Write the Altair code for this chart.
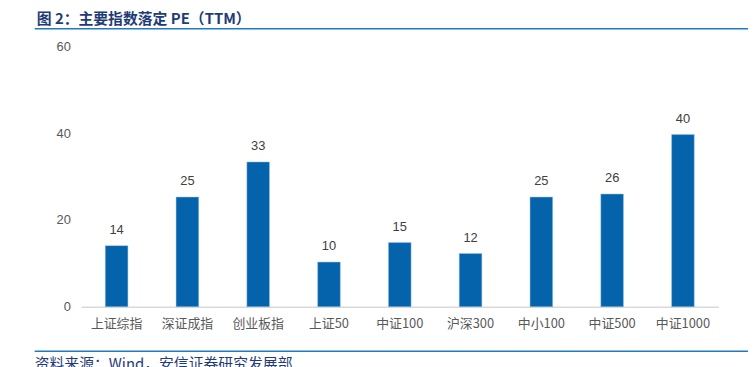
import altair as alt
import pandas as pd

categories = ["上证综指", "深证成指", "创业板指", "上证50", "中证100", "沪深300", "中小100", "中证500", "中证1000"]
pe_values = [14.1, 25.3, 33.4, 10.3, 14.8, 12.3, 25.3, 26.0, 39.7]
y_ticks = [0, 20, 40, 60]

title_text = "图 2：主要指数落定 PE（TTM）"
source_text = "资料来源：Wind，安信证券研究发展部"

df = pd.DataFrame({"cat": categories, "pe": pe_values})

FONT = "Noto Sans CJK SC"
W, H = 644, 263

x = alt.X("cat:N", sort=categories, title=None,
          scale=alt.Scale(paddingInner=0.68, paddingOuter=0.34),
          axis=alt.Axis(labelAngle=0, labelFont=FONT, labelFontSize=13, labelColor="#595959",
                        labelPadding=11, ticks=False, domainColor="#D9D9D9", domainWidth=1.5))
y = alt.Y("pe:Q", title=None,
          scale=alt.Scale(domain=[0, 60], nice=False),
          axis=alt.Axis(values=y_ticks, grid=False, domain=False, ticks=False,
                        labelFont="Liberation Sans", labelFontSize=13, labelColor="#595959",
                        labelPadding=11))

bars = alt.Chart(df).mark_bar(color="#0563AC", stroke="#9DC3E6", strokeWidth=0.5).encode(x=x, y=y)
labels = alt.Chart(df).mark_text(dy=-9, baseline="bottom", font="Liberation Sans",
                                 fontSize=13, color="#404040").encode(
    x=alt.X("cat:N", sort=categories), y="pe:Q", text=alt.Text("pe:Q", format=".0f"))

deco_df = pd.DataFrame({"t": [title_text]})
title = alt.Chart(deco_df).mark_text(align="left", baseline="middle", font=FONT, fontSize=15,
                                     fontWeight="bold", color="#1F3C78").encode(
    x=alt.value(-45), y=alt.value(-27.5), text="t:N")
src_df = pd.DataFrame({"t": [source_text]})
source = alt.Chart(src_df).mark_text(align="left", baseline="middle", font=FONT, fontSize=15,
                                     color="#1F3C78").encode(
    x=alt.value(-47), y=alt.value(321), text="t:N")
top_line = alt.Chart(deco_df).mark_rule(color="#1F7BC1", strokeWidth=1.5).encode(
    x=alt.value(-47), x2=alt.value(680), y=alt.value(-18))
bottom_line = alt.Chart(deco_df).mark_rule(color="#1F7BC1", strokeWidth=1.5).encode(
    x=alt.value(-47), x2=alt.value(680), y=alt.value(308))

chart = alt.layer(bars, labels, title, top_line, bottom_line, source).properties(
    width=W, height=H,
    background="white",
    autosize=alt.AutoSizeParams(type="none"),
    padding={"left": 74, "top": 37, "right": 30, "bottom": 70},
).configure_view(strokeWidth=0)

chart.save("out.html", embed_options={"renderer": "svg", "actions": False})
